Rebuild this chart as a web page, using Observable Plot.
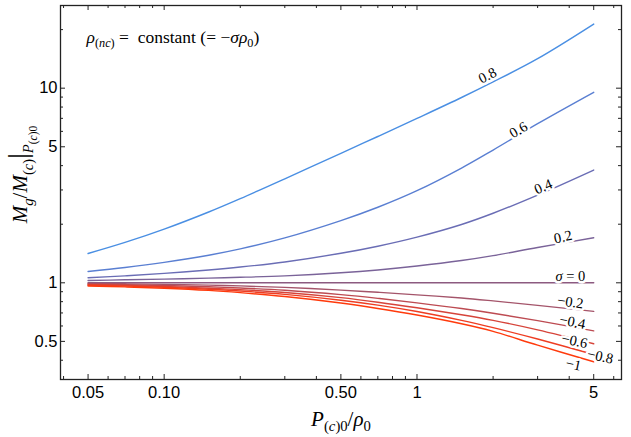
<!DOCTYPE html>
<html><head><meta charset="utf-8">
<script src="https://cdn.jsdelivr.net/npm/d3@7"></script>
<script src="https://cdn.jsdelivr.net/npm/@observablehq/plot@0.6"></script>
<style>body{margin:0;background:#fff}</style>
</head><body><div id="chart"></div>
<script>
// ---- data ----
const xs = [0.05, 0.07, 0.1, 0.15, 0.2, 0.3, 0.5, 0.7, 1, 1.5, 2, 3, 5];
const sigmas = [0.8, 0.6, 0.4, 0.2, 0, -0.2, -0.4, -0.6, -0.8, -1];
const m08 = [1.414, 1.612, 1.887, 2.311, 2.707, 3.424, 4.630, 5.646, 6.995, 8.957, 10.77, 14.18, 21.35];
const m06 = [1.143, 1.198, 1.273, 1.386, 1.494, 1.701, 2.087, 2.444, 2.974, 3.887, 4.810, 6.570, 9.52];
const m04 = [1.061, 1.086, 1.118, 1.164, 1.205, 1.280, 1.418, 1.542, 1.717, 1.994, 2.277, 2.822, 3.797];
const m02 = [1.028, 1.036, 1.045, 1.057, 1.067, 1.086, 1.126, 1.164, 1.219, 1.301, 1.379, 1.519, 1.704];
const m00 = [1, 1, 1, 1, 1, 1, 1, 1, 1, 1, 1, 1, 1];
const n02 = [0.992, 0.988, 0.982, 0.973, 0.964, 0.947, 0.917, 0.894, 0.867, 0.835, 0.807, 0.766, 0.713];
const n04 = [0.985, 0.978, 0.969, 0.954, 0.940, 0.915, 0.869, 0.832, 0.789, 0.738, 0.698, 0.639, 0.566];
const n06 = [0.978, 0.970, 0.958, 0.938, 0.922, 0.892, 0.839, 0.795, 0.744, 0.685, 0.641, 0.573, 0.486];
const n08 = [0.971, 0.962, 0.949, 0.927, 0.907, 0.872, 0.814, 0.768, 0.712, 0.641, 0.588, 0.514, 0.428];
const n10 = [0.963, 0.953, 0.938, 0.914, 0.890, 0.850, 0.787, 0.738, 0.683, 0.616, 0.563, 0.478, 0.393];
const series = [m08, m06, m04, m02, m00, n02, n04, n06, n08, n10];

const labelText = ["0.8", "0.6", "0.4", "0.2", "σ = 0", "−0.2", "−0.4", "−0.6", "−0.8", "−1"];
const labelX = [1.90, 2.52, 3.16, 3.78, 4.04, 4.04, 4.12, 4.20, 5.31, 4.16];
const labelY = [11.62, 6.1, 3.12, 1.72, 1.077, 0.797, 0.629, 0.502, 0.418, 0.380];
const labelAngle = [-27, -31, -23, -12, 0, 8, 11, 12, 12, 12];

const xMajor = [0.05, 0.1, 0.5, 1, 5];
const xMajorLabels = ["0.05", "0.10", "0.50", "1", "5"];
const xMinor = [0.04, 0.06, 0.07, 0.08, 0.09, 0.2, 0.3, 0.4, 0.6, 0.7, 0.8, 0.9, 2, 3, 4, 6];
const yMajor = [0.5, 1, 5, 10];
const yMajorLabels = ["0.5", "1", "5", "10"];
const yMinor = [0.4, 0.6, 0.7, 0.8, 0.9, 2, 3, 4, 6, 7, 8, 9, 20];

const xDomain = [0.0389, 6.44];
const yDomain = [0.3185, 26.6];
const lineColors = ["#4a8fe3", "#5a7fd2", "#6a6db5", "#7a6399", "#8c5a80", "#a4546a", "#bd4b52", "#d6443a", "#ee3d22", "#ff3a0c"];

// ---- tables ----
const rows = sigmas.flatMap((s, i) => xs.map((x, j) => ({sigma: s, x, y: series[i][j]})));
const labels = labelText.map((t, i) => ({text: t, x: labelX[i], y: labelY[i], angle: labelAngle[i]}));

const W = 631, H = 437, ML = 60, MR = 10, MT = 5, MB = 58;
const PW = W - ML - MR, PH = H - MT - MB;
const SERIF = "Liberation Serif";
const XLAB = "P(c)0/ρ0";
const YLAB = "Mg/M(c)|P(c)0";
const NOTE = "ρ(nc) =  constant (= −σρ0)";
const tk = {stroke: "#222", strokeWidth: 1};

const plot = Plot.plot({
  width: W, height: H,
  marginLeft: ML, marginRight: MR, marginTop: MT, marginBottom: MB,
  style: {fontFamily: "Liberation Sans", fontSize: "16.5px", background: "white", color: "black"},
  x: {type: "log", domain: xDomain, axis: null},
  y: {type: "log", domain: yDomain, axis: null},
  color: {type: "ordinal", domain: sigmas, range: lineColors},
  marks: [
    Plot.line(rows, {x: "x", y: "y", z: "sigma", stroke: "sigma", strokeWidth: 1.4, curve: "catmull-rom"}),
    Plot.text(labels, {x: "x", y: "y", text: "text", rotate: "angle", fontFamily: SERIF, fontSize: 14.5,
      fill: "black", stroke: "white", strokeWidth: 5}),
    // inward ticks on all four sides
    Plot.tickX(xMajor, {...tk, x: d => d, insetTop: PH - 5}),
    Plot.tickX(xMajor, {...tk, x: d => d, insetBottom: PH - 5}),
    Plot.tickX(xMinor, {...tk, x: d => d, insetTop: PH - 3}),
    Plot.tickX(xMinor, {...tk, x: d => d, insetBottom: PH - 3}),
    Plot.tickY(yMajor, {...tk, y: d => d, insetRight: PW - 5}),
    Plot.tickY(yMajor, {...tk, y: d => d, insetLeft: PW - 5}),
    Plot.tickY(yMinor, {...tk, y: d => d, insetRight: PW - 3}),
    Plot.tickY(yMinor, {...tk, y: d => d, insetLeft: PW - 3}),
    Plot.frame({stroke: "#222", strokeWidth: 1.3}),
    // tick labels
    Plot.text(xMajor, {x: d => d, text: (d, i) => xMajorLabels[i], frameAnchor: "bottom", lineAnchor: "top", dy: 7}),
    Plot.text(yMajor, {y: d => d, text: (d, i) => yMajorLabels[i], frameAnchor: "left", textAnchor: "end", dx: -3}),
    // axis titles and note
    Plot.text([XLAB], {text: d => d, frameAnchor: "bottom", dy: 46, lineAnchor: "bottom",
      fontFamily: SERIF, fontSize: 21}),
    Plot.text([YLAB], {text: d => d, frameAnchor: "left", dx: -40, dy: -18, rotate: -90,
      textAnchor: "middle", fontFamily: SERIF, fontSize: 21}),
    Plot.text([NOTE], {text: d => d, frameAnchor: "top-left", dx: 26, dy: 37, textAnchor: "start",
      lineAnchor: "bottom", fontFamily: SERIF, fontSize: 17.5})
  ]
});
document.getElementById("chart").appendChild(plot);

// ---- rich text (subscripts / italics) ----
function rich(el, segs, base) {
  el.textContent = "";
  el.style.whiteSpace = "pre";
  const shift = [0, 0.28 * base, 0.46 * base];
  const size = [1, 0.7, 0.55];
  let prev = 0;
  for (const [t, lvl, it, sc] of segs) {
    const ts = document.createElementNS("http://www.w3.org/2000/svg", "tspan");
    ts.textContent = t;
    ts.setAttribute("font-size", base * size[lvl] * (sc || 1));
    if (it) ts.setAttribute("font-style", "italic");
    const d = shift[lvl] - shift[prev];
    if (d) ts.setAttribute("dy", d);
    prev = lvl;
    el.appendChild(ts);
  }
}
for (const el of plot.querySelectorAll("text")) {
  const c = el.textContent;
  if (c === XLAB) rich(el, [["P",0,1],["(",1],["c",1,1],[")0",1],["/",0],["ρ",0,1],["0",1]], 21);
  else if (c === YLAB) rich(el, [["M",0,1],["g",1,1],["/",0],["M",0,1],["(",1],["c",1,1],[")",1],["|",0,0,1.3],["P",1,1],["(",2],["c",2,1],[")0",2]], 21);
  else if (c === NOTE) rich(el, [["ρ",0,1],["(",1],["nc",1,1],[")",1],[" =  constant (= −",0],["σρ",0,1],["0",1],[")",0]], 17.5);
  else if (c === "σ = 0") rich(el, [["σ",0,1],[" = 0",0]], 14.5);
}
</script>
</body></html>
